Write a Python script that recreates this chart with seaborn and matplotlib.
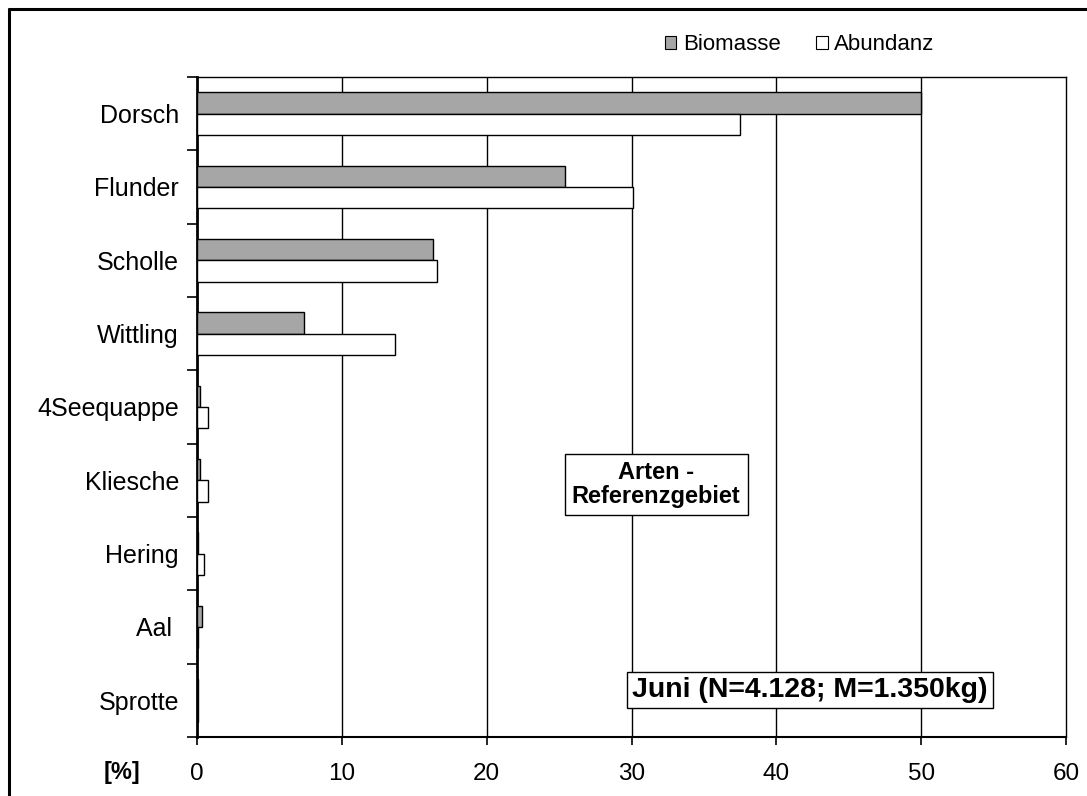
import matplotlib
matplotlib.use("Agg")
import matplotlib.pyplot as plt
import seaborn as sns
import pandas as pd
from matplotlib.patches import Patch
from matplotlib.lines import Line2D

categories = ["Dorsch", "Flunder", "Scholle", "Wittling", "4Seequappe",
              "Kliesche", "Hering", "Aal ", "Sprotte"]
biomasse = [50.0, 25.4, 16.3, 7.4, 0.2, 0.2, 0.1, 0.35, 0.1]
abundanz = [37.5, 30.1, 16.6, 13.7, 0.75, 0.75, 0.45, 0.1, 0.1]
series_names = ["Biomasse", "Abundanz"]
x_ticks = [0, 10, 20, 30, 40, 50, 60]

df = pd.DataFrame({
    "Art": categories * 2,
    "Wert": biomasse + abundanz,
    "Serie": [series_names[0]] * len(categories) + [series_names[1]] * len(categories),
})

sns.set_theme(style="white")
plt.rcParams["font.family"] = ["Liberation Sans", "DejaVu Sans"]
plt.rcParams["text.color"] = "black"

W, H = 1087, 796
fig = plt.figure(figsize=(W / 100, H / 100), dpi=100)
ax = fig.add_axes([197 / W, 1 - 737 / H, (1066 - 197) / W, (737 - 77) / H])

colors = {"Biomasse": "#a6a6a6", "Abundanz": "#ffffff"}
sns.barplot(data=df, x="Wert", y="Art", hue="Serie", orient="h",
            palette=colors, order=categories, hue_order=series_names,
            width=0.58, edgecolor="black", linewidth=1.0, saturation=1,
            legend=False, ax=ax, zorder=3)

ax.set_xlim(0, 60)
ax.set_ylim(len(categories) - 0.5, -0.5)
ax.set_xticks(x_ticks)
ax.set_xticklabels([str(t) for t in x_ticks])
ax.set_xlabel("")
ax.set_ylabel("")

# vertical gridlines
for t in x_ticks[1:-1]:
    ax.axvline(t, color="black", lw=1.0, zorder=1)

for s in ax.spines.values():
    s.set_color("black")
    s.set_linewidth(1.0)
ax.spines["left"].set_linewidth(2.0)
ax.spines["bottom"].set_linewidth(1.5)

# y ticks at category boundaries, labels at centers
ax.set_yticks([i + 0.5 for i in range(-1, len(categories))], minor=True)
ax.set_yticks(range(len(categories)))
ax.set_yticklabels(categories)
ax.tick_params(axis="y", which="major", length=0, pad=13, labelsize=18, colors="black")
ax.tick_params(axis="y", which="minor", length=7, width=1.2, direction="out", left=True, color="black")
ax.tick_params(axis="x", which="major", length=6, width=1.2, direction="out", bottom=True,
               pad=13, labelsize=17.5, colors="black")

# legend
handles = [Patch(facecolor=colors[n], edgecolor="black", linewidth=0.8, label=n) for n in series_names]
fig.legend(handles=handles, loc="center", bbox_to_anchor=(800 / W, 1 - 45 / H), ncol=2,
           frameon=False, fontsize=16, handlelength=0.5, handleheight=0.5,
           handletextpad=0.3, columnspacing=1.6)

# text boxes
ax.text(31.7, 5.06, "Arten -\nReferenzgebiet", ha="center", va="center",
        fontsize=17, fontweight="bold", linespacing=1.05, zorder=5, color="black",
        bbox=dict(boxstyle="square,pad=0.3", fc="white", ec="black", lw=1.0))
ax.text(42.3, 7.86, "Juni (N=4.128; M=1.350kg)", ha="center", va="center",
        fontsize=20.5, fontweight="bold", zorder=5, color="black",
        bbox=dict(boxstyle="square,pad=0.18", fc="white", ec="black", lw=1.0))

fig.text(122 / W, 1 - 772 / H, "[%]", ha="center", va="center", fontsize=17,
         fontweight="bold", color="black")

# outer frame (top and left edges visible)
fig.add_artist(Line2D([8.5 / W, 1.0], [1 - 8.5 / H, 1 - 8.5 / H], transform=fig.transFigure,
                      color="black", lw=2.2))
fig.add_artist(Line2D([8.5 / W, 8.5 / W], [0.0, 1 - 8.5 / H], transform=fig.transFigure,
                      color="black", lw=2.2))

fig.savefig("out.png", dpi=100)
